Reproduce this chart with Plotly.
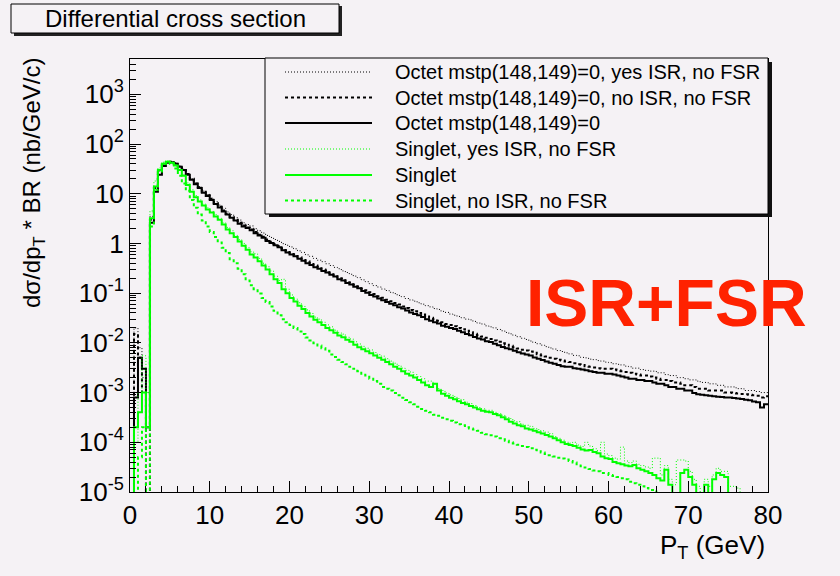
import plotly.graph_objects as go

# ---------------- data (0.5 GeV bins from 0 to 80 GeV) ----------------
BIN_WIDTH = 0.5
N_BINS = 160

OCTET_ISR_NOFSR = [
    1e-6, 2.0e-2, 8.0e-3, 2.0e-3, 1.0e-3, 3.5, 14, 28, 39, 43,
    44, 41, 36, 31, 25, 20, 16.5, 13.8, 11.3, 9.7,
    8.2, 6.9, 5.9, 5.1, 4.3, 3.8, 3.3, 2.95, 2.6, 2.4,
    2.25, 1.98, 1.80, 1.62, 1.45, 1.32, 1.20, 1.10, 0.99, 0.92,
    0.85, 0.78, 0.71, 0.66, 0.59, 0.55, 0.50, 0.46, 0.43, 0.39,
    0.36, 0.33, 0.31, 0.28, 0.26, 0.24, 0.22, 0.205, 0.185, 0.17,
    0.155, 0.142, 0.133, 0.121, 0.113, 0.104, 0.098, 0.090, 0.085, 0.078,
    0.073, 0.069, 0.064, 0.060, 0.056, 0.053, 0.049, 0.047, 0.043, 0.041,
    0.038, 0.036, 0.034, 0.032, 0.030, 0.029, 0.027, 0.025, 0.024, 0.022,
    0.021, 0.020, 0.0186, 0.0175, 0.0162, 0.0152, 0.0142, 0.0133, 0.0124, 0.0117,
    0.0109, 0.0102, 0.0096, 0.0090, 0.0084, 0.0079, 0.0075, 0.0070, 0.0067, 0.0063,
    0.0060, 0.0056, 0.0055, 0.0051, 0.0050, 0.0047, 0.0046, 0.0044, 0.0043, 0.0041,
    0.0040, 0.0038, 0.0037, 0.0036, 0.0034, 0.0033, 0.0031, 0.0031, 0.0029, 0.0028,
    0.0027, 0.0027, 0.0025, 0.0025, 0.0023, 0.0022, 0.0022, 0.0020, 0.0020, 0.0019,
    0.0018, 0.0018, 0.0017, 0.0016, 0.0016, 0.0015, 0.0015, 0.0014, 0.0014, 0.0013,
    0.0013, 0.0013, 0.0012, 0.0012, 0.0011, 0.0011, 0.0011, 0.00105, 0.0010, 0.0010,
]

OCTET_NOISR_NOFSR = [
    1e-6, 1.5e-2, 5.0e-3, 1.0e-3, 1e-6, 3.0, 13, 27, 38, 43,
    44, 41, 36, 30, 25, 20, 16, 13.5, 11.0, 9.3,
    7.8, 6.5, 5.5, 4.6, 3.9, 3.4, 3.0, 2.6, 2.3, 2.1,
    1.90, 1.70, 1.50, 1.36, 1.20, 1.08, 0.97, 0.89, 0.79, 0.72,
    0.65, 0.60, 0.53, 0.49, 0.44, 0.41, 0.36, 0.34, 0.30, 0.285,
    0.255, 0.232, 0.21, 0.196, 0.175, 0.163, 0.148, 0.136, 0.123, 0.114,
    0.104, 0.096, 0.087, 0.081, 0.074, 0.069, 0.063, 0.059, 0.054, 0.050,
    0.046, 0.043, 0.040, 0.037, 0.034, 0.032, 0.030, 0.028, 0.026, 0.024,
    0.023, 0.0215, 0.020, 0.0188, 0.0175, 0.0163, 0.0152, 0.0143, 0.0134, 0.0126,
    0.0120, 0.0112, 0.0105, 0.0098, 0.0092, 0.0087, 0.0082, 0.0077, 0.0073, 0.0070,
    0.0067, 0.0063, 0.0059, 0.0056, 0.0053, 0.0050, 0.0048, 0.0046, 0.0044, 0.0042,
    0.0041, 0.0039, 0.0037, 0.0036, 0.0034, 0.0033, 0.0032, 0.0031, 0.0030, 0.0030,
    0.0030, 0.0029, 0.0028, 0.0027, 0.0026, 0.0025, 0.0024, 0.0023, 0.0022, 0.0022,
    0.0021, 0.0020, 0.0019, 0.0018, 0.0018, 0.0017, 0.0016, 0.0016, 0.0015, 0.0014,
    0.0014, 0.0013, 0.0012, 0.0012, 0.0012, 0.0011, 0.0011, 0.0011, 0.0011, 0.0010,
    0.0010, 0.00098, 0.00096, 0.00094, 0.00092, 0.00090, 0.00088, 0.00086, 0.00080, 0.00084,
]

OCTET_DEFAULT = [
    1e-6, 8.0e-4, 5.0e-3, 3.0e-3, 2.0e-4, 2.6, 11, 24, 36, 42,
    43, 40, 35, 30, 24, 19, 15.5, 13, 10.5, 9.0,
    7.5, 6.2, 5.3, 4.4, 3.8, 3.3, 2.9, 2.5, 2.2, 2.05,
    1.85, 1.60, 1.45, 1.30, 1.12, 1.02, 0.92, 0.84, 0.73, 0.66,
    0.60, 0.55, 0.49, 0.45, 0.40, 0.37, 0.33, 0.31, 0.28, 0.26,
    0.235, 0.215, 0.19, 0.18, 0.16, 0.15, 0.135, 0.125, 0.11, 0.102,
    0.092, 0.086, 0.078, 0.072, 0.066, 0.061, 0.057, 0.052, 0.049, 0.045,
    0.041, 0.038, 0.036, 0.033, 0.030, 0.028, 0.026, 0.0245, 0.022, 0.021,
    0.020, 0.019, 0.0175, 0.0163, 0.0150, 0.0142, 0.0131, 0.0122, 0.0117, 0.0108,
    0.0104, 0.0096, 0.0090, 0.0083, 0.0078, 0.0074, 0.0069, 0.0065, 0.0061, 0.0058,
    0.0056, 0.0051, 0.0048, 0.0045, 0.0042, 0.0040, 0.0038, 0.0036, 0.0034, 0.0033,
    0.0033, 0.0031, 0.0030, 0.0029, 0.0028, 0.0027, 0.0026, 0.0025, 0.0025, 0.0024,
    0.0024, 0.0023, 0.0022, 0.0021, 0.0020, 0.0019, 0.0019, 0.0018, 0.0018, 0.0017,
    0.0017, 0.0016, 0.0015, 0.0015, 0.0014, 0.0013, 0.0013, 0.0012, 0.0012, 0.0011,
    0.0011, 0.00098, 0.00092, 0.00090, 0.00088, 0.00086, 0.00084, 0.00082, 0.00081, 0.00080,
    0.00080, 0.00078, 0.00076, 0.00074, 0.00072, 0.00070, 0.00066, 0.00064, 0.00050, 0.00058,
]

SINGLET_ISR_NOFSR = [
    1e-6, 1.0e-4, 1.0e-3, 5.5e-3, 1.0e-3, 4.5, 18, 33, 43, 46,
    43, 38, 31, 24, 16.5, 12, 9.2, 7.5, 6.2, 5.2,
    4.4, 3.8, 3.2, 2.6, 2.1, 1.8, 1.45, 1.2, 1.0, 0.82,
    0.68, 0.62, 0.50, 0.40, 0.34, 0.28, 0.22, 0.18, 0.19, 0.12,
    0.092, 0.076, 0.064, 0.054, 0.046, 0.039, 0.033, 0.030, 0.026, 0.023,
    0.021, 0.018, 0.016, 0.015, 0.013, 0.012, 0.0105, 0.0095, 0.0085, 0.0078,
    0.0072, 0.0064, 0.0058, 0.0054, 0.0048, 0.0043, 0.0039, 0.0035, 0.0031, 0.0028,
    0.0026, 0.0023, 0.0021, 0.0019, 0.0017, 0.0017, 0.0015, 0.0012, 0.0011, 0.00098,
    0.00090, 0.00083, 0.00076, 0.00072, 0.00064, 0.00060, 0.00055, 0.00050, 0.00047, 0.00044,
    0.00044, 0.00040, 0.00038, 0.00035, 0.00032, 0.00030, 0.00027, 0.00026, 0.00023, 0.00022,
    0.00021, 0.00019, 0.00018, 0.00017, 0.00016, 0.00015, 0.00013, 0.00012, 0.00011, 0.00010,
    9.6e-5, 1.0e-4, 8.8e-5, 8.2e-5, 1.0e-4, 8.4e-5, 7.4e-5, 6.8e-5, 1.0e-4, 5.8e-5,
    5.4e-5, 4.8e-5, 4.6e-5, 8.0e-5, 4.2e-5, 3.9e-5, 4.2e-5, 3.6e-5, 3.4e-5, 3.2e-5,
    3.0e-5, 4.8e-5, 4.8e-5, 2.2e-5, 3.4e-5, 1.8e-5, 1.4e-5, 4.4e-5, 4.4e-5, 4.2e-5,
    2.6e-5, 1.8e-5, 1.3e-5, 1e-6, 1.8e-5, 1.3e-5, 2.2e-5, 3.0e-5, 2.6e-5, 2.6e-5,
    1.3e-5, 1.3e-5, 1.2e-5, 1e-6, 1e-6, 1e-6, 1e-6, 1e-6, 1e-6, 1e-6,
]

SINGLET_DEFAULT = [
    1e-6, 2.0e-4, 4.0e-4, 1.0e-3, 2.0e-4, 3.2, 14, 30, 40, 44,
    42, 37, 30, 23, 15, 11, 8.5, 7.0, 5.8, 4.8,
    4.2, 3.5, 3.0, 2.4, 1.9, 1.6, 1.35, 1.1, 0.90, 0.75,
    0.60, 0.52, 0.44, 0.36, 0.30, 0.24, 0.19, 0.16, 0.12, 0.10,
    0.080, 0.068, 0.056, 0.048, 0.040, 0.034, 0.029, 0.026, 0.023, 0.020,
    0.018, 0.016, 0.014, 0.013, 0.0115, 0.0105, 0.0092, 0.0082, 0.0074, 0.0068,
    0.0062, 0.0056, 0.0050, 0.0046, 0.0041, 0.0037, 0.0033, 0.0030, 0.0027, 0.0024,
    0.0022, 0.0020, 0.0018, 0.0016, 0.0014, 0.0013, 0.0015, 0.0011, 0.00095, 0.00086,
    0.00079, 0.00073, 0.00067, 0.00062, 0.00058, 0.00054, 0.00050, 0.00046, 0.00043, 0.00041,
    0.00040, 0.00037, 0.00035, 0.00032, 0.00029, 0.00026, 0.00024, 0.00022, 0.00021, 0.00019,
    0.00018, 0.00017, 0.00016, 0.00015, 0.00014, 0.00013, 0.00012, 0.00011, 0.00010, 9.2e-5,
    8.8e-5, 8.4e-5, 7.8e-5, 7.2e-5, 6.8e-5, 7.0e-5, 6.4e-5, 6.0e-5, 5.2e-5, 4.8e-5,
    4.6e-5, 4.0e-5, 3.8e-5, 3.6e-5, 3.4e-5, 3.3e-5, 3.5e-5, 3.0e-5, 2.8e-5, 2.6e-5,
    2.4e-5, 2.2e-5, 1.9e-5, 1.7e-5, 2.8e-5, 1.4e-5, 1e-6, 1e-6, 2.4e-5, 2.8e-5,
    2.0e-5, 1.4e-5, 1e-6, 1e-6, 1.4e-5, 1e-6, 1.8e-5, 2.4e-5, 2.2e-5, 2.0e-5,
    1e-6, 1e-6, 1e-6, 1e-6, 1e-6, 1e-6, 1e-6, 1e-6, 1e-6, 1e-6,
]

SINGLET_NOISR_NOFSR = [
    1e-6, 1e-6, 5.0e-5, 2.0e-4, 1e-6, 2.2, 12, 28, 40, 44,
    40, 32, 23, 16, 11.5, 7.5, 5.2, 3.8, 2.9, 2.2,
    1.7, 1.35, 1.05, 0.82, 0.64, 0.48, 0.40, 0.31, 0.24, 0.18,
    0.145, 0.12, 0.098, 0.080, 0.066, 0.054, 0.044, 0.036, 0.030, 0.026,
    0.023, 0.020, 0.017, 0.015, 0.0128, 0.0112, 0.0098, 0.0088, 0.0078, 0.0069,
    0.0058, 0.0052, 0.0046, 0.0041, 0.0037, 0.0033, 0.0030, 0.0027, 0.0024, 0.0022,
    0.0019, 0.0017, 0.0015, 0.0013, 0.0012, 0.0011, 0.00098, 0.00088, 0.00079, 0.00071,
    0.00064, 0.00058, 0.00052, 0.00047, 0.00043, 0.00040, 0.00036, 0.00034, 0.00031, 0.00029,
    0.00027, 0.00025, 0.00023, 0.00022, 0.00020, 0.00019, 0.00018, 0.00017, 0.000155, 0.000145,
    0.000138, 0.000130, 0.000120, 0.000115, 0.000108, 0.000100, 9.4e-5, 8.9e-5, 8.4e-5, 8.0e-5,
    7.6e-5, 7.1e-5, 6.6e-5, 6.2e-5, 5.8e-5, 5.5e-5, 5.2e-5, 4.9e-5, 4.7e-5, 4.5e-5,
    4.2e-5, 3.9e-5, 3.6e-5, 3.3e-5, 3.1e-5, 2.9e-5, 2.7e-5, 2.6e-5, 2.4e-5, 2.4e-5,
    2.2e-5, 2.1e-5, 2.0e-5, 1.9e-5, 1.8e-5, 1.6e-5, 1.5e-5, 1.4e-5, 1.3e-5, 1.2e-5,
    1.1e-5, 1.1e-5, 1e-6, 1e-6, 1e-6, 1e-6, 1e-6, 1e-6, 1e-6, 1e-6,
    1e-6, 1e-6, 1e-6, 1e-6, 1e-6, 1e-6, 1e-6, 1e-6, 1e-6, 1e-6,
    1e-6, 1e-6, 1e-6, 1e-6, 1e-6, 1e-6, 1e-6, 1e-6, 1e-6, 1e-6,
]

SERIES_NAMES = [
    "Octet mstp(148,149)=0, yes ISR, no FSR",
    "Octet mstp(148,149)=0, no ISR, no FSR",
    "Octet mstp(148,149)=0",
    "Singlet, yes ISR, no FSR",
    "Singlet",
    "Singlet, no ISR, no FSR",
]
SERIES_VALUES = [OCTET_ISR_NOFSR, OCTET_NOISR_NOFSR, OCTET_DEFAULT,
                 SINGLET_ISR_NOFSR, SINGLET_DEFAULT, SINGLET_NOISR_NOFSR]

Y_TICK_VALUES = [1e-5, 1e-4, 1e-3, 1e-2, 1e-1, 1, 10, 100, 1000]
Y_TICK_TEXT = ["10<sup>-5</sup>", "10<sup>-4</sup>", "10<sup>-3</sup>", "10<sup>-2</sup>",
               "10<sup>-1</sup>", "1", "10", "10<sup>2</sup>", "10<sup>3</sup>"]

# ---------------- styles ----------------
BLACK = "#000000"
GREEN = "#00ff00"
STYLES = [
    dict(color=BLACK, width=1, dash="1px,2px"),
    dict(color=BLACK, width=2, dash="3px,3px"),
    dict(color=BLACK, width=2, dash="solid"),
    dict(color=GREEN, width=1, dash="1px,2px"),
    dict(color=GREEN, width=2, dash="solid"),
    dict(color=GREEN, width=2, dash="3px,3px"),
]
BG = "#f5f2f5"
FONT = "Liberation Sans, Arial, Helvetica, sans-serif"

# plot area in pixels
L, T, W, H = 130, 59, 638, 433
FIG_W, FIG_H = 840, 576


def px(x):
    return (x - L) / W


def py(y):
    return (T + H - y) / H


edges = [i * BIN_WIDTH for i in range(N_BINS + 1)]

fig = go.Figure()
for name, vals, st in zip(SERIES_NAMES, SERIES_VALUES, STYLES):
    fig.add_trace(go.Scatter(
        x=edges, y=list(vals) + [vals[-1]], mode="lines", name=name,
        line=dict(shape="hv", color=st["color"], width=st["width"], dash=st["dash"]),
        showlegend=False, hoverinfo="skip",
    ))

minor_y = [m * 10.0 ** e for e in range(-5, 4) for m in range(2, 10)]

fig.update_layout(
    width=FIG_W, height=FIG_H,
    margin=dict(l=L, r=FIG_W - L - W, t=T, b=FIG_H - T - H, pad=0),
    paper_bgcolor=BG, plot_bgcolor=BG,
    font=dict(family=FONT, color="black"),
    showlegend=False,
    xaxis=dict(
        range=[0, 80], tickmode="linear", tick0=0, dtick=10,
        ticks="inside", ticklen=11, tickwidth=1, tickcolor="black",
        showgrid=False, zeroline=False,
        showline=True, linecolor="black", linewidth=1, mirror=True,
        tickfont=dict(size=26, family=FONT),
        minor=dict(ticks="inside", ticklen=6, tickcolor="black", dtick=2, tick0=0, showgrid=False),
    ),
    yaxis=dict(
        type="log", range=[-5, 3.71],
        tickmode="array", tickvals=Y_TICK_VALUES, ticktext=Y_TICK_TEXT,
        ticks="inside", ticklen=11, tickwidth=1, tickcolor="black",
        showgrid=False, zeroline=False,
        showline=True, linecolor="black", linewidth=1, mirror=True,
        tickfont=dict(size=26, family=FONT),
        minor=dict(ticks="inside", ticklen=6, tickcolor="black",
                   tickmode="array", tickvals=minor_y, showgrid=False),
    ),
)

shapes = []
annotations = []

# title box with shadow
shapes.append(dict(type="rect", xref="paper", yref="paper",
                   x0=px(14), x1=px(342), y0=py(6), y1=py(36),
                   fillcolor="#222222", line=dict(width=0), layer="above"))
shapes.append(dict(type="rect", xref="paper", yref="paper",
                   x0=px(11), x1=px(339), y0=py(4), y1=py(33),
                   fillcolor=BG, line=dict(color="black", width=1), layer="above"))
annotations.append(dict(text="Differential cross section", xref="paper", yref="paper",
                        x=px(175), y=py(19), xanchor="center", yanchor="middle",
                        showarrow=False, font=dict(size=24, family=FONT, color="black")))

# legend box with shadow
shapes.append(dict(type="rect", xref="paper", yref="paper",
                   x0=px(269), x1=px(772), y0=py(62), y1=py(217),
                   fillcolor="#111111", line=dict(width=0), layer="above"))
shapes.append(dict(type="rect", xref="paper", yref="paper",
                   x0=px(265), x1=px(768), y0=py(58), y1=py(214),
                   fillcolor=BG, line=dict(color="black", width=1), layer="above"))
ROW_Y = [72, 97.5, 123, 149, 175, 200.5]
for name, st, ry in zip(SERIES_NAMES, STYLES, ROW_Y):
    shapes.append(dict(type="line", xref="paper", yref="paper",
                       x0=px(285), x1=px(372), y0=py(ry), y1=py(ry),
                       line=dict(color=st["color"], width=st["width"], dash=st["dash"]),
                       layer="above"))
    annotations.append(dict(text=name, xref="paper", yref="paper",
                            x=px(393), y=py(ry), xanchor="left", yanchor="middle",
                            showarrow=False, font=dict(size=20, family=FONT, color="black")))

# axis titles
annotations.append(dict(text="dσ/dp<sub>T</sub> * BR (nb/GeV/c)", xref="paper", yref="paper",
                        x=px(33), y=py(183), xanchor="center", yanchor="middle",
                        textangle=-90, showarrow=False,
                        font=dict(size=24, family=FONT, color="black")))
annotations.append(dict(text="P<sub>T</sub> (GeV)", xref="paper", yref="paper",
                        x=px(767), y=py(546), xanchor="right", yanchor="middle",
                        showarrow=False, font=dict(size=26, family=FONT, color="black")))

# big label
annotations.append(dict(text="<b>ISR+FSR</b>", xref="paper", yref="paper",
                        x=px(666), y=py(303), xanchor="center", yanchor="middle",
                        showarrow=False, font=dict(size=66, family=FONT, color="#ff2200")))

fig.update_layout(shapes=shapes, annotations=annotations)
fig.write_html("out.html")
